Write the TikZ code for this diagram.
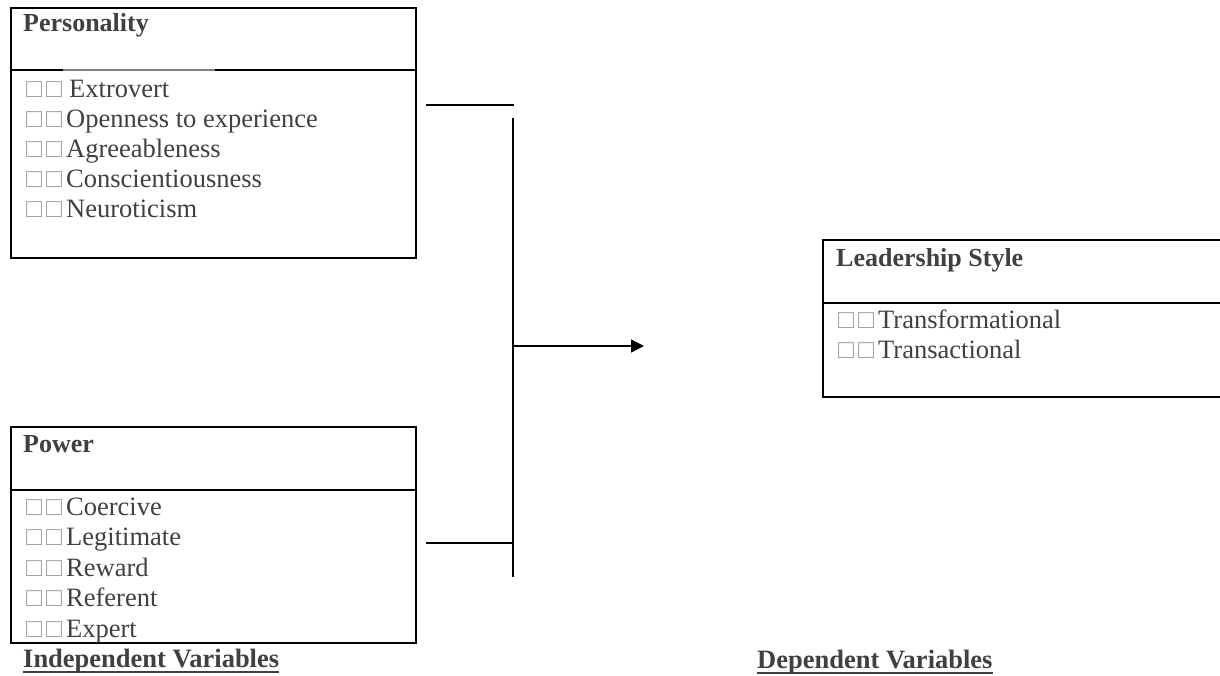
\documentclass[tikz,border=0pt]{standalone}
\usepackage{fontspec}
\setmainfont{Liberation Serif}
\usetikzlibrary{arrows.meta}
\definecolor{txt}{HTML}{404040}
\definecolor{sqc}{HTML}{A0A0A0}
\newcommand{\sqg}{\makebox[20pt][l]{\textcolor{sqc}{□}}}
\tikzset{
  frame/.style={draw=black, line width=1.8pt},
  link/.style={draw=black, line width=1.4pt},
  title/.style={anchor=base west, inner sep=0pt, text=txt, font=\fontsize{26}{30}\selectfont\bfseries},
  item/.style={anchor=base west, inner sep=0pt, text=txt, font=\fontsize{26.5}{30}\selectfont},
  caption/.style={anchor=base west, inner sep=0pt, text=txt, font=\fontsize{26.5}{30}\selectfont\bfseries},
}
\begin{document}
\begin{tikzpicture}[x=1pt,y=-1pt]
\useasboundingbox[fill=white] (0,0) rectangle (1220,676);

% Personality box
\node[frame, anchor=north west, minimum width=405pt, minimum height=250pt, inner sep=0pt] (pers) at (10,7) {};
\draw[frame] (10,70) -- (415,70);
\draw[draw=gray, line width=2pt] (63,70.5) -- (215,70.5);
\node[title] (perst) at (23,32) {Personality};
\node[item] (p1) at (26,98) {\sqg\sqg\hspace{3pt}Extrovert};
\node[item] (p2) at (26,128) {\sqg\sqg Openness to experience};
\node[item] (p3) at (26,158) {\sqg\sqg Agreeableness};
\node[item] (p4) at (26,188) {\sqg\sqg Conscientiousness};
\node[item] (p5) at (26,218) {\sqg\sqg Neuroticism};

% Power box
\node[frame, anchor=north west, minimum width=405pt, minimum height=216pt, inner sep=0pt] (pow) at (10,426) {};
\draw[frame] (10,490) -- (415,490);
\node[title] (powt) at (23,452) {Power};
\node[item] (q1) at (26,515) {\sqg\sqg Coercive};
\node[item] (q2) at (26,545.5) {\sqg\sqg Legitimate};
\node[item] (q3) at (26,576) {\sqg\sqg Reward};
\node[item] (q4) at (26,606.5) {\sqg\sqg Referent};
\node[item] (q5) at (26,637) {\sqg\sqg Expert};

% Leadership box (open at right edge)
\coordinate (ltr) at (1221,240);
\coordinate (ltl) at (823,240);
\coordinate (lbl) at (823,397);
\coordinate (lbr) at (1221,397);
\draw[frame] (ltr) -- (ltl) -- (lbl) -- (lbr);
\draw[frame] (823,303) -- (1221,303);
\node[title] (leadt) at (836,266) {Leadership Style};
\node[item] (l1) at (838,328) {\sqg\sqg Transformational};
\node[item] (l2) at (838,358) {\sqg\sqg Transactional};

% Connectors
\coordinate (h1a) at (426,105);
\coordinate (h1b) at (514,105);
\coordinate (vt) at (513,118);
\coordinate (vb) at (513,577);
\coordinate (h2a) at (426,543);
\coordinate (h2b) at (513,543);
\coordinate (am) at (513,346);
\coordinate (ae) at (644,346);
\draw[link] (h1a) -- (h1b);
\draw[link] (vt) -- (vb);
\draw[link] (h2a) -- (h2b);
\draw[link, -{Triangle[length=13pt,width=13pt]}] (am) -- (ae);

% Captions
\node[caption] (iv) at (23,667) {Independent Variables};
\draw[draw=txt, line width=1.8pt] ([yshift=-5pt]iv.base west) -- ([yshift=-5pt]iv.base east);
\node[caption] (dv) at (757,668) {Dependent Variables};
\draw[draw=txt, line width=1.8pt] ([yshift=-5pt]dv.base west) -- ([yshift=-5pt]dv.base east);
\end{tikzpicture}
\end{document}
